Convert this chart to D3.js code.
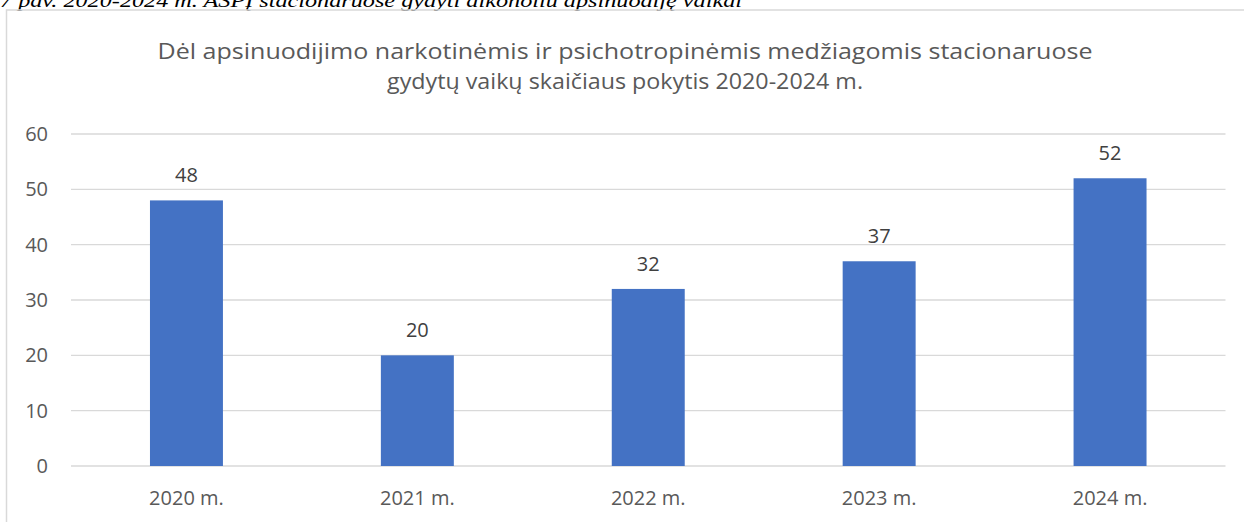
<!DOCTYPE html>
<html><head><meta charset="utf-8">
<script src="https://cdn.jsdelivr.net/npm/d3@7"></script>
<style>html,body{margin:0;padding:0;background:#fff;overflow:hidden}</style>
</head><body>
<svg id="c" width="1244" height="522"></svg>
<script>
const categories = ["2020 m.", "2021 m.", "2022 m.", "2023 m.", "2024 m."];
const values = [48, 20, 32, 37, 52];
const yTicks = [0, 10, 20, 30, 40, 50, 60];
const titleLines = ["Dėl apsinuodijimo narkotinėmis ir psichotropinėmis medžiagomis stacionaruose", "gydytų vaikų skaičiaus pokytis 2020-2024 m."];
const caption = "7 pav. 2020-2024 m. ASPĮ stacionaruose gydyti alkoholiu apsinuodiję vaikai";

const svg = d3.select("#c");
const font = "'Open Sans', 'Noto Sans', sans-serif";

// caption (cut off at top, as in the reference)
svg.append("text").attr("x", 0).attr("y", 7)
  .attr("font-family", "'Liberation Serif', 'DejaVu Serif', serif")
  .attr("font-style", "italic").attr("font-size", 18.5).attr("fill", "#000")
  .attr("textLength", 742).attr("lengthAdjust", "spacingAndGlyphs")
  .text(caption);

// chart border
svg.append("rect").attr("x", 6.5).attr("y", 10).attr("width", 1260).attr("height", 540)
  .attr("fill", "none").attr("stroke", "#d9d9d9").attr("stroke-width", 1.5);

// title
const titleWidths = [935, 476];
titleLines.forEach((t, i) => {
  svg.append("text")
    .attr("x", 625).attr("y", 59 + i * 30)
    .attr("text-anchor", "middle").attr("font-family", font).attr("font-size", 22.5)
    .attr("fill", "#595959")
    .attr("textLength", titleWidths[i]).attr("lengthAdjust", "spacingAndGlyphs")
    .text(t);
});

const x = d3.scaleBand().domain(categories).range([71, 1225.5]).paddingInner(0.684).paddingOuter(0.342);
const y = d3.scaleLinear().domain([0, 60]).range([466, 134]);

// gridlines
svg.append("g").selectAll("line").data(yTicks).join("line")
  .attr("x1", 71).attr("x2", 1225.5)
  .attr("y1", d => y(d)).attr("y2", d => y(d))
  .attr("stroke", "#d9d9d9").attr("stroke-width", 1.3);

// y axis labels
const yAxis = svg.append("g").attr("transform", "translate(58,0)")
  .call(d3.axisLeft(y).tickValues(yTicks).tickSize(0).tickPadding(10));
yAxis.select(".domain").remove();
yAxis.selectAll("text").attr("font-family", font).attr("font-size", 20).attr("fill", "#595959");

// bars
svg.append("g").selectAll("rect").data(values).join("rect")
  .attr("x", (d, i) => x(categories[i])).attr("width", x.bandwidth())
  .attr("y", d => y(d)).attr("height", d => y(0) - y(d))
  .attr("fill", "#4472c4");

// data labels
svg.append("g").selectAll("text").data(values).join("text")
  .attr("x", (d, i) => x(categories[i]) + x.bandwidth() / 2)
  .attr("y", d => y(d) - 18)
  .attr("text-anchor", "middle").attr("font-family", font).attr("font-size", 20)
  .attr("fill", "#404040").text(d => d);

// x axis labels
const xAxis = svg.append("g").attr("transform", "translate(0,466)");
xAxis.call(d3.axisBottom(x).tickSize(0).tickPadding(0));
xAxis.select(".domain").remove();
xAxis.selectAll("text").attr("dy", null).attr("y", 39)
  .attr("font-family", font).attr("font-size", 20).attr("fill", "#595959");
</script>
</body></html>
